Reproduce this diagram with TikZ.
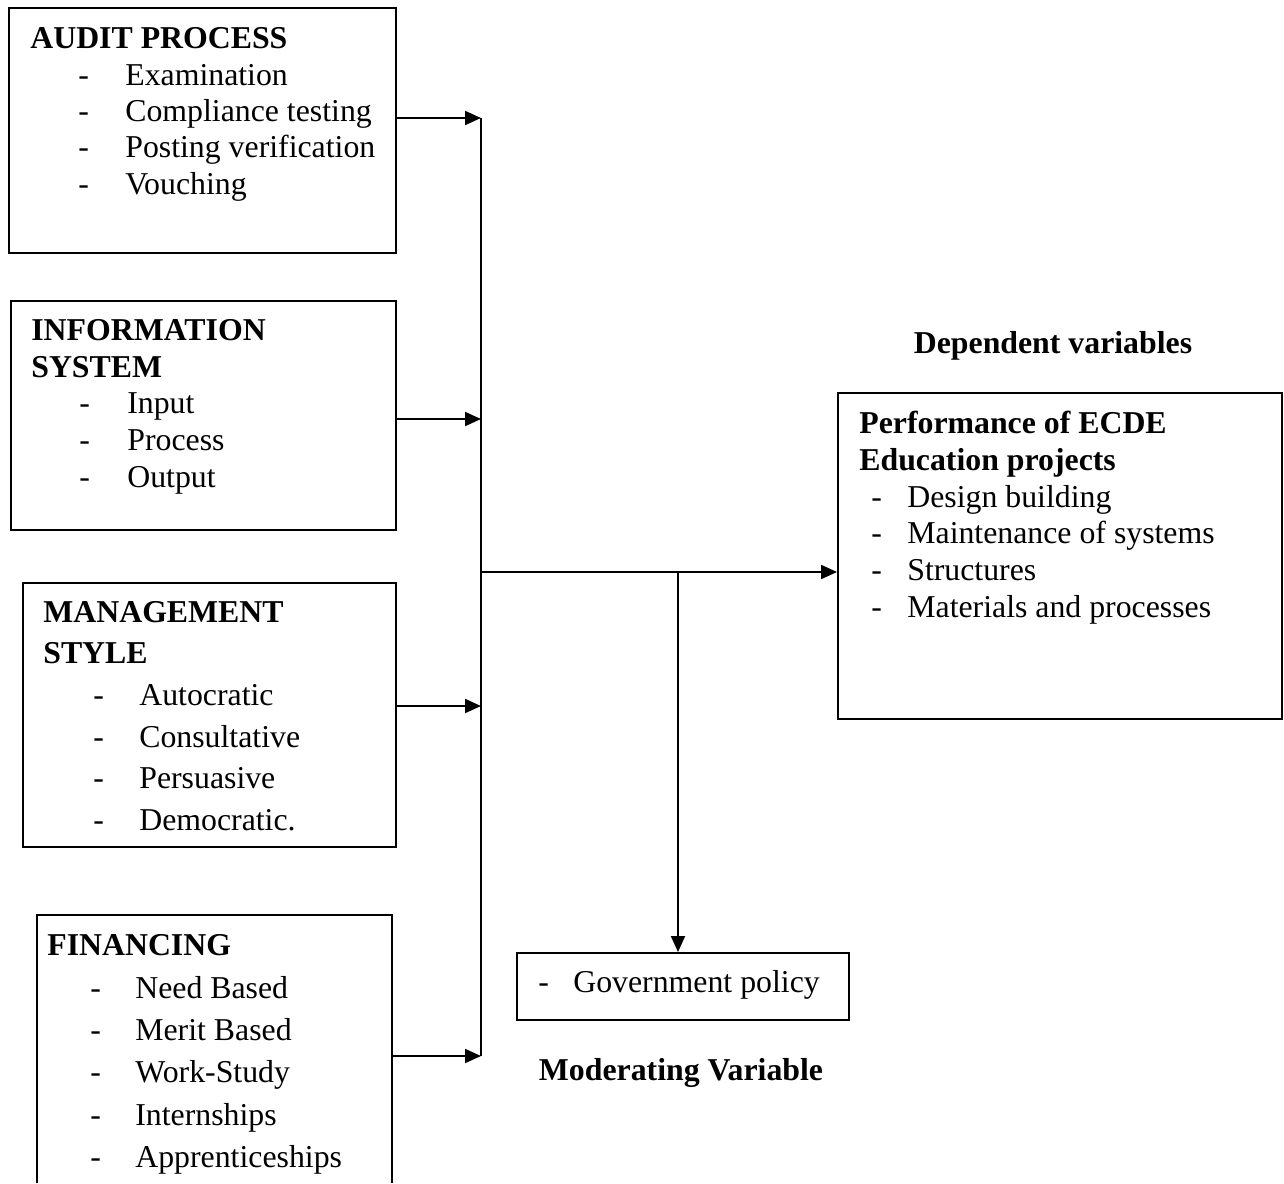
\documentclass[tikz,border=0pt]{standalone}
\usepackage{fontspec}
\setmainfont{Liberation Serif}
\usetikzlibrary{arrows.meta,positioning,fit}

\newcommand{\diagfont}{\fontsize{18.1}{21}\selectfont}

\tikzset{
  box/.style={draw, line width=1.1pt, inner sep=0pt},
  head/.style={font=\diagfont\bfseries, anchor=base west, inner sep=0pt},
  item/.style={font=\diagfont, anchor=base west, inner sep=0pt},
  arr/.style={-{Triangle[length=0.32cm,width=0.28cm]}, line width=1.1pt},
}

\begin{document}
\begin{tikzpicture}[x=0.02cm, y=-0.02cm]
    \useasboundingbox (0,0) rectangle (1284,1183);

    % Audit process
    \node[box, fit={(9,8) (396,253)}] (audit) {};
    \node[head] (audit-t) at (30,48) {AUDIT PROCESS};
    \foreach \t/\y [count=\i] in {Examination/85, Compliance testing/121, Posting verification/157, Vouching/194} {
      \node[item] (audit-d\i) at (78,\y) {-};
      \node[item] (audit-\i) at (125,\y) {\t};
    }

    % Information system
    \node[box, fit={(11,301) (396,530)}] (info) {};
    \node[head] (info-t1) at (31,340) {INFORMATION};
    \node[head] (info-t2) at (31,377) {SYSTEM};
    \foreach \t/\y [count=\i] in {Input/413, Process/450, Output/487} {
      \node[item] (info-d\i) at (79,\y) {-};
      \node[item] (info-\i) at (127,\y) {\t};
    }

    % Management style
    \node[box, fit={(23,583) (396,847)}] (mgmt) {};
    \node[head] (mgmt-t1) at (43,622) {MANAGEMENT};
    \node[head] (mgmt-t2) at (43,663) {STYLE};
    \foreach \t/\y [count=\i] in {Autocratic/705, Consultative/747, Persuasive/788, Democratic./830} {
      \node[item] (mgmt-d\i) at (93,\y) {-};
      \node[item] (mgmt-\i) at (139,\y) {\t};
    }

    % Financing (open at the bottom)
    \node[inner sep=0pt, fit={(37,915) (392,1183)}] (fin) {};
    \draw[line width=1.1pt] (fin.south west) |- (fin.north east) -- (fin.south east);
    \node[head] (fin-t) at (47,955) {FINANCING};
    \foreach \t/\y [count=\i] in {Need Based/998, Merit Based/1040, Work-Study/1082, Internships/1125, Apprenticeships/1167} {
      \node[item] (fin-d\i) at (90,\y) {-};
      \node[item] (fin-\i) at (135,\y) {\t};
    }

    % Dependent variables
    \node[head, anchor=base] (dep-l) at (1053,353) {Dependent variables};
    \node[box, fit={(838,393) (1282,719)}] (dep) {};
    \node[head] (dep-t1) at (859,433) {Performance of ECDE};
    \node[head] (dep-t2) at (859,470) {Education projects};
    \foreach \t/\y [count=\i] in {Design building/507, Maintenance of systems/543, Structures/580, Materials and processes/617} {
      \node[item] (dep-d\i) at (871,\y) {-};
      \node[item] (dep-\i) at (907,\y) {\t};
    }

    % Moderating variable
    \node[box, fit={(517,953) (849,1020)}] (gov) {};
    \node[item] (gov-d) at (538,992) {-};
    \node[item] (gov-1) at (573,992) {Government policy};
    \node[head, anchor=base] (mod-l) at (681,1080) {Moderating Variable};

    % bus line and arrows
    \coordinate (b1) at (481,118);
    \coordinate (b2) at (481,419);
    \coordinate (b3) at (481,706);
    \coordinate (b4) at (481,1056);
    \coordinate (j) at (481,572);
    \coordinate (k) at (678,572);
    \draw[line width=1.1pt] (b1) -- (b4);
    \draw[arr] (audit.east |- b1) -- (b1);
    \draw[arr] (info.east |- b2) -- (b2);
    \draw[arr] (mgmt.east |- b3) -- (b3);
    \draw[arr] (fin.east |- b4) -- (b4);
    \draw[arr] (j) -- (dep.west |- j);
    \draw[arr] (k) -- (gov.north -| k);
\end{tikzpicture}
\end{document}
